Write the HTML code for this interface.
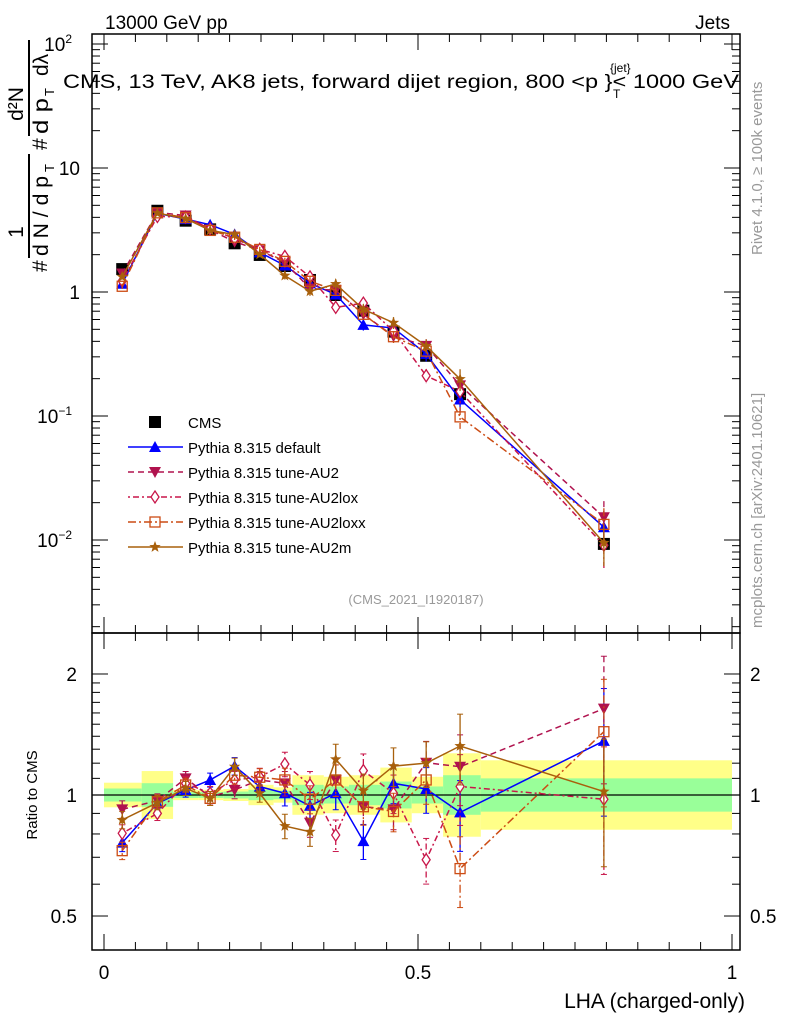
<!DOCTYPE html>
<html><head><meta charset="utf-8"><style>
body{margin:0;background:#fff}
svg{display:block;font-family:"Liberation Sans",sans-serif}
</style></head><body>
<svg id="c" width="786" height="1024" viewBox="0 0 786 1024"></svg>
<script>
const categories=[0.029,0.085,0.13,0.169,0.208,0.248,0.288,0.328,0.369,0.413,0.461,0.513,0.567,0.796];
const binEdges=[0,0.06,0.11,0.15,0.19,0.23,0.27,0.3,0.35,0.39,0.44,0.49,0.54,0.6,1.0];
const cmsValues=[1.53,4.52,3.76,3.2,2.47,1.99,1.62,1.25,0.946,0.707,0.479,0.306,0.150,0.0093];
const bandGreen=[1.038,1.07,1.017,1.017,1.02,1.03,1.025,1.06,1.05,1.06,1.08,1.05,1.12,1.10];
const bandYellow=[1.073,1.147,1.03,1.03,1.035,1.06,1.045,1.12,1.11,1.12,1.17,1.11,1.27,1.22];
const ratioDefault=[0.761,0.953,1.029,1.09,1.18,1.049,1.01,0.94,1.01,0.768,1.069,1.035,0.905,1.363];
const ratioAU2=[0.921,0.968,1.10,0.99,1.03,1.09,1.069,0.853,1.09,0.935,0.921,1.203,1.176,1.64];
const ratioAU2lox=[0.803,0.90,1.069,1.01,1.09,1.11,1.194,1.059,0.795,1.15,1.01,0.69,1.05,0.976];
const ratioAU2loxx=[0.727,0.962,1.059,0.981,1.12,1.107,1.09,0.976,1.09,0.935,0.91,1.09,0.656,1.437];
const ratioAU2m=[0.867,0.957,1.039,0.981,1.176,1.01,0.837,0.81,1.227,1.025,1.18,1.2,1.324,1.02];
const relErr=[0.05,0.04,0.04,0.04,0.05,0.05,0.07,0.08,0.09,0.1,0.11,0.13,0.2,0.35];
const seriesNames=["Pythia 8.315 default","Pythia 8.315 tune-AU2","Pythia 8.315 tune-AU2lox","Pythia 8.315 tune-AU2loxx","Pythia 8.315 tune-AU2m"];

const NS="http://www.w3.org/2000/svg";
const svg=document.getElementById('c');
function el(tag,attrs,parent,text){const e=document.createElementNS(NS,tag);for(const k in attrs)e.setAttribute(k,attrs[k]);if(text!==undefined)e.textContent=text;(parent||svg).appendChild(e);return e;}
const L=92,R=740,T=34,MB=633,RB=950;
const X=v=>104+v*628;
const Y=v=>292-Math.log10(v)*124;
const YR=v=>795-Math.log10(v)*402;

const gb=el('g',{});


for(let i=0;i<categories.length;i++){
  const x0=X(binEdges[i]),x1=X(binEdges[i+1]);
  const y=el('rect',{x:x0,width:x1-x0,y:YR(bandYellow[i]),height:YR(1/bandYellow[i])-YR(bandYellow[i]),fill:'#ffff88'},gb);
  
  
  const g=el('rect',{x:x0,width:x1-x0,y:YR(bandGreen[i]),height:YR(1/bandGreen[i])-YR(bandGreen[i]),fill:'#99ff99'},gb);
  
  
}
el('line',{x1:L,x2:R,y1:YR(1),y2:YR(1),stroke:'#000','stroke-width':1.3});

el('rect',{x:L,y:T,width:R-L,height:MB-T,fill:'none',stroke:'#000','stroke-width':1.5});
el('rect',{x:L,y:MB,width:R-L,height:RB-MB,fill:'none',stroke:'#000','stroke-width':1.5});

for(let d=-3;d<=2;d++){for(let m=1;m<10;m++){const v=m*Math.pow(10,d);const y=Y(v);if(y<T||y>MB)continue;const len=m==1?16:8;
 el('line',{x1:L,x2:L+len,y1:y,y2:y,stroke:'#000'});el('line',{x1:R,x2:R-len,y1:y,y2:y,stroke:'#000'});}}
for(const v of [0.5,0.6,0.7,0.8,0.9,1,1.1,1.2,1.3,1.4,1.5,1.6,1.7,1.8,1.9,2]){const y=YR(v);const big=(v==0.5||v==1||v==2);const len=big?16:8;
 el('line',{x1:L,x2:L+len,y1:y,y2:y,stroke:'#000'});el('line',{x1:R,x2:R-len,y1:y,y2:y,stroke:'#000'});}
for(let i=0;i<=20;i++){const v=i*0.05;const x=X(v);const big=i%10==0;const len=big?16:8;
 el('line',{x1:x,x2:x,y1:T,y2:T+len,stroke:'#000'});el('line',{x1:x,x2:x,y1:MB,y2:MB-len,stroke:'#000'});
 el('line',{x1:x,x2:x,y1:MB,y2:MB+len,stroke:'#000'});el('line',{x1:x,x2:x,y1:RB,y2:RB-len,stroke:'#000'});}

const tl=[[2,'10','2'],[1,'10',''],[0,'1',''],[-1,'10','−1'],[-2,'10','−2']];
for(const [d,b,e] of tl){const t=el('text',{x:e?72:80,y:Y(Math.pow(10,d))+7,'font-size':19,'text-anchor':'end'});t.textContent=b;
 if(e){el('tspan',{'font-size':12,dy:-8},t,e);}}
for(const v of [2,1,0.5]){el('text',{x:77,y:YR(v)+7,'font-size':19,'text-anchor':'end'},null,String(v));el('text',{x:750,y:YR(v)+7,'font-size':19},null,String(v));}
for(const v of [0,0.5,1]){el('text',{x:X(v),y:979,'font-size':19,'text-anchor':'middle'},null,String(v));}
let t=el('text',{x:745,y:1008,'font-size':21,'text-anchor':'end'},null,'LHA (charged-only)');
t=el('text',{x:105,y:29,'font-size':19},null,'13000 GeV pp');
t=el('text',{x:730,y:29,'font-size':19,'text-anchor':'end'},null,'Jets');
t=el('text',{x:63,y:88,'font-size':19,textLength:676,lengthAdjust:'spacingAndGlyphs'},null,'CMS, 13 TeV, AK8 jets, forward dijet region, 800 <p  }< 1000 GeV');
el('text',{x:610,y:72,'font-size':12},null,'{jet}');el('text',{x:613,y:98,'font-size':12},null,'T');
t=el('text',{x:416,y:604,'font-size':13,fill:'#999','text-anchor':'middle'},null,'(CMS_2021_I1920187)');
t=el('text',{transform:'translate(762,255) rotate(-90)','font-size':15,fill:'#999'},null,'Rivet 4.1.0, ≥ 100k events');
t=el('text',{transform:'translate(762,628) rotate(-90)','font-size':15,fill:'#999'},null,'mcplots.cern.ch [arXiv:2401.10621]');
t=el('text',{transform:'translate(37,795) rotate(-90)','font-size':15,'text-anchor':'middle'},null,'Ratio to CMS');

// y axis title, reading bottom to top
const yt=el('g',{transform:'translate(0,272) rotate(-90)'});

el('text',{x:0,y:47,'font-size':21},yt,'#');
el('text',{x:40,y:23,'font-size':21,'text-anchor':'middle'},yt,'1');
el('line',{x1:14,x2:118,y1:29,y2:29,stroke:'#000','stroke-width':2},yt);
el('text',{x:16,y:48,'font-size':21,textLength:80,lengthAdjust:'spacingAndGlyphs'},yt,'d N / d p');
el('text',{x:100,y:54,'font-size':13},yt,'T');
el('text',{x:122,y:47,'font-size':21},yt,'#');
el('text',{x:168,y:23,'font-size':21,'text-anchor':'middle'},yt,'d²N');
el('line',{x1:136,x2:232,y1:29,y2:29,stroke:'#000','stroke-width':2},yt);
el('text',{x:138,y:48,'font-size':21,textLength:36,lengthAdjust:'spacingAndGlyphs'},yt,'d p');
el('text',{x:176,y:54,'font-size':13},yt,'T');
el('text',{x:196,y:48,'font-size':21},yt,'dλ');

function marker(g,kind,x,y,col){
 const s=6;
 if(kind=='sq')return el('rect',{x:x-s,y:y-s,width:2*s,height:2*s,fill:'#000'},g);
 if(kind=='tri')return el('path',{d:`M${x},${y-6}L${x+6},${y+5}L${x-6},${y+5}Z`,fill:col},g);
 if(kind=='tridn')return el('path',{d:`M${x},${y+6}L${x+6},${y-5}L${x-6},${y-5}Z`,fill:col},g);
 if(kind=='dia')return el('path',{d:`M${x},${y-6}L${x+4},${y}L${x},${y+6}L${x-4},${y}Z`,fill:'#fff',stroke:col,'stroke-width':1.3},g);
 if(kind=='osq')return el('rect',{x:x-5,y:y-5,width:10,height:10,fill:'none',stroke:col,'stroke-width':1.3},g);
 if(kind=='star'){let p='';for(let i=0;i<10;i++){const r=i%2?2.5:6;const a=-Math.PI/2+i*Math.PI/5;p+=(i?'L':'M')+(x+r*Math.cos(a)).toFixed(1)+','+(y+r*Math.sin(a)).toFixed(1);}return el('path',{d:p+'Z',fill:col},g);}
}
const styles=[
 {r:ratioDefault,col:'#0000ff',dash:'',m:'tri',n:'series-default'},
 {r:ratioAU2,col:'#b0124e',dash:'6,4',m:'tridn',n:'series-au2'},
 {r:ratioAU2lox,col:'#c8174a',dash:'2,3,6,3',m:'dia',n:'series-au2lox'},
 {r:ratioAU2loxx,col:'#cc4c14',dash:'8,3,2,3',m:'osq',n:'series-au2loxx'},
 {r:ratioAU2m,col:'#a8600c',dash:'',m:'star',n:'series-au2m'}];
const cg=el('g',{});
for(let i=0;i<categories.length;i++){const m=marker(cg,'sq',X(categories[i]),Y(cmsValues[i]));}
for(const s of styles){
 const g=el('g',{});
 const gr=el('g',{});
 let pm='',pr='';
 categories.forEach((c,i)=>{const v=cmsValues[i]*s.r[i];pm+=(i?'L':'M')+X(c)+','+Y(v);pr+=(i?'L':'M')+X(c)+','+YR(s.r[i]);});
 el('path',{d:pm,fill:'none',stroke:s.col,'stroke-width':1.5,'stroke-dasharray':s.dash},g);
 el('path',{d:pr,fill:'none',stroke:s.col,'stroke-width':1.5,'stroke-dasharray':s.dash},gr);
 categories.forEach((c,i)=>{const v=cmsValues[i]*s.r[i],e=relErr[i],x=X(c);
  el('line',{x1:x,x2:x,y1:Y(v*(1+e)),y2:Y(v*(1-e)),stroke:s.col,'stroke-width':1.3,'stroke-dasharray':s.dash},g);
  el('line',{x1:x,x2:x,y1:YR(s.r[i]*(1+e)),y2:YR(s.r[i]*(1-e)),stroke:s.col,'stroke-width':1.3,'stroke-dasharray':s.dash},gr);
  for(const yy of [YR(s.r[i]*(1+e)),YR(s.r[i]*(1-e))])el('line',{x1:x-3,x2:x+3,y1:yy,y2:yy,stroke:s.col},gr);
  const a=marker(g,s.m,x,Y(v),s.col);
  const b=marker(gr,s.m,x,YR(s.r[i]),s.col);
 });
}
const lg=el('g',{});
marker(lg,'sq',155,422);el('text',{x:188,y:428,'font-size':15},lg,'CMS');
styles.forEach((s,i)=>{const y=447+25*i;
 const e=el('g',{},lg);
 el('line',{x1:128,x2:183,y1:y,y2:y,stroke:s.col,'stroke-width':1.5,'stroke-dasharray':s.dash},e);
 marker(e,s.m,155,y,s.col);
 el('text',{x:188,y:y+6,'font-size':15},e,seriesNames[i]);});
</script>
</body></html>
